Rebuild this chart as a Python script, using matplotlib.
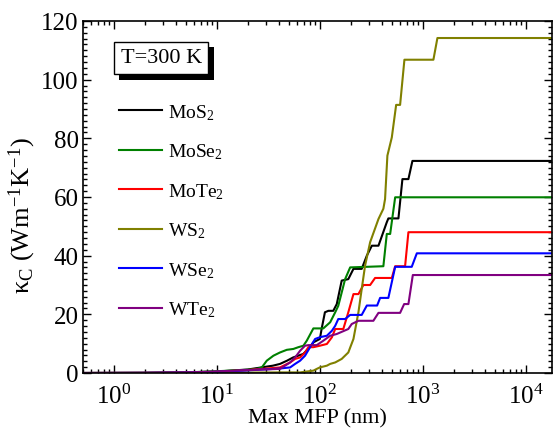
import matplotlib
matplotlib.use("Agg")
import matplotlib.pyplot as plt
import matplotlib.patheffects as pe
from matplotlib.ticker import LogLocator, MultipleLocator, NullFormatter

plt.rcParams["font.family"] = ["Liberation Serif", "DejaVu Serif"]
plt.rcParams["mathtext.fontset"] = "custom"
plt.rcParams["mathtext.rm"] = "Liberation Serif"
plt.rcParams["mathtext.it"] = "Liberation Serif:italic"

# cumulative lattice thermal conductivity vs max mean free path
mos2_mfp = [0.5, 2, 5, 10, 20, 35, 41, 48, 55, 69, 77, 87, 100, 104, 112, 121, 135, 146,
            163, 189, 212, 255, 286, 320, 371, 447, 463, 580, 634, 725, 793, 18000]
mos2_k = [0, 0.05, 0.2, 0.5, 1.2, 2.5, 3.1, 4.2, 5.3, 6.5, 8.2, 10.5, 11.6, 15.0, 20.7, 21.2, 21.2, 23.5,
          31.5, 32.0, 35.5, 35.5, 40.0, 43.4, 43.4, 51.4, 52.7, 52.7, 66.1, 66.1, 72.3, 72.3]

mose2_mfp = [0.5, 2, 5, 10, 20, 24.4, 27.3, 30.5, 35.4, 41, 47.7, 55.3, 61.8, 69.2, 74.6, 86.5,
             108, 126, 141, 151, 176, 197, 414, 447, 482, 539, 18000]
mose2_k = [0, 0.05, 0.2, 0.6, 1.1, 1.4, 1.9, 4.2, 5.9, 7.0, 7.9, 8.2, 8.8, 9.3, 11.0, 15.2,
           15.2, 17.3, 20.7, 22.9, 32.0, 36.0, 36.4, 47.4, 47.4, 59.9, 59.9]

mote2_mfp = [0.5, 2, 5, 10, 20, 41, 51.4, 57.5, 64.3, 71.8, 77.4, 86.5, 100, 117, 131, 141, 151,
             169, 189, 212, 237, 265, 308, 344, 500, 539, 673, 725, 18000]
mote2_k = [0, 0.05, 0.15, 0.4, 1.0, 1.9, 3.6, 4.8, 5.3, 7.0, 8.8, 8.8, 9.3, 9.9, 12.2, 15.0, 15.0,
           15.0, 20.7, 26.9, 26.9, 30.0, 30.0, 32.4, 32.4, 36.4, 36.4, 48.0, 48.0]

ws2_mfp = [0.5, 5, 10, 20, 40, 64.3, 86.5, 93.3, 100, 117, 126, 141, 163, 189, 212, 237, 255, 275,
           308, 371, 414, 430, 453, 500, 551, 602, 663, 1268, 1387, 18000]
ws2_k = [0, 0.05, 0.1, 0.15, 0.2, 0.2, 0.8, 1.4, 1.9, 2.5, 3.1, 3.6, 4.8, 7.0, 11.6, 20.7, 28.6, 36.6,
         44.6, 52.5, 56.0, 59.3, 74.1, 80.3, 91.4, 91.4, 106.8, 106.8, 114.2, 114.2]

wse2_mfp = [0.5, 2, 5, 10, 20, 40, 51.4, 57.5, 64.3, 71.8, 80.4, 89.9, 100, 117, 131, 141, 151,
            176, 197, 255, 286, 360, 385, 463, 539, 781, 875, 18000]
wse2_k = [0, 0.05, 0.15, 0.4, 0.9, 1.5, 1.9, 3.1, 4.2, 5.9, 8.8, 11.6, 12.2, 12.7, 14.4, 16.1, 18.4,
          18.4, 19.8, 19.8, 23.0, 23.0, 25.6, 25.6, 36.2, 36.2, 40.8, 40.8]

wte2_mfp = [0.5, 2, 5, 10, 20, 41, 51.4, 57.5, 64.3, 71.8, 77.4, 93.3, 108, 126, 146, 189, 204,
            237, 331, 371, 602, 659, 725, 800, 18000]
wte2_k = [0, 0.05, 0.2, 0.5, 1.0, 1.4, 3.6, 5.3, 7.6, 9.3, 9.5, 9.5, 11.0, 12.7, 13.3, 15.0, 16.7,
          17.8, 17.8, 20.5, 20.5, 23.5, 23.5, 33.4, 33.4]

labels = ["MoS$_\\mathregular{2}$", "MoSe$_\\mathregular{2}$", "MoTe$_\\mathregular{2}$",
          "WS$_\\mathregular{2}$", "WSe$_\\mathregular{2}$", "WTe$_\\mathregular{2}$"]
colors = ["#000000", "#008000", "#ff0000", "#808000", "#0000ff", "#800080"]

series = [(mos2_mfp, mos2_k), (mose2_mfp, mose2_k), (mote2_mfp, mote2_k),
          (ws2_mfp, ws2_k), (wse2_mfp, wse2_k), (wte2_mfp, wte2_k)]

fig = plt.figure(figsize=(5.53, 4.35), dpi=100)
ax = fig.add_axes([83 / 553, 61 / 435, 469 / 553, 352 / 435])

for (x, y), lab, c in zip(series, labels, colors):
    ax.plot(x, y, color=c, lw=1.5, label=lab)

ax.set_xscale("log")
ax.set_xlim(0.5, 1.8e4)
ax.set_ylim(0, 120)
ax.yaxis.set_major_locator(MultipleLocator(20))
ax.yaxis.set_minor_locator(MultipleLocator(2))
ax.xaxis.set_major_locator(LogLocator(base=10, numticks=10))
ax.xaxis.set_minor_locator(LogLocator(base=10, subs=range(2, 10), numticks=20))
ax.xaxis.set_minor_formatter(NullFormatter())

ax.tick_params(which="both", direction="in", top=True, right=True, labelsize=18, width=1)
ax.tick_params(which="major", length=6)
ax.tick_params(which="minor", length=3)
ax.tick_params(axis="y", which="major", pad=3)
ax.tick_params(axis="x", which="major", pad=8)
for s in ax.spines.values():
    s.set_linewidth(1.2)

ax.set_xlabel("Max MFP (nm)", fontsize=16, labelpad=0)
ax.set_ylabel("κ$_\\mathregular{C}$ (Wm$^\\mathregular{-1}$K$^\\mathregular{-1}$)", fontsize=19)
ax.yaxis.set_label_coords(-0.096, 0.45)

t = ax.text(0.08, 0.895, "T=300 K", transform=ax.transAxes, fontsize=16, va="center", ha="left",
            bbox=dict(boxstyle="square,pad=0.3", fc="white", ec="black", lw=1))
t.get_bbox_patch().set_path_effects([pe.withSimplePatchShadow(offset=(4, -4), shadow_rgbFace="black", alpha=1)])

ax.legend(loc="upper left", bbox_to_anchor=(0.04, 0.82), frameon=False, fontsize=14,
          handlelength=2.2, labelspacing=1.02, handletextpad=0.3)

fig.savefig("out.png", dpi=100)
plt.close(fig)
